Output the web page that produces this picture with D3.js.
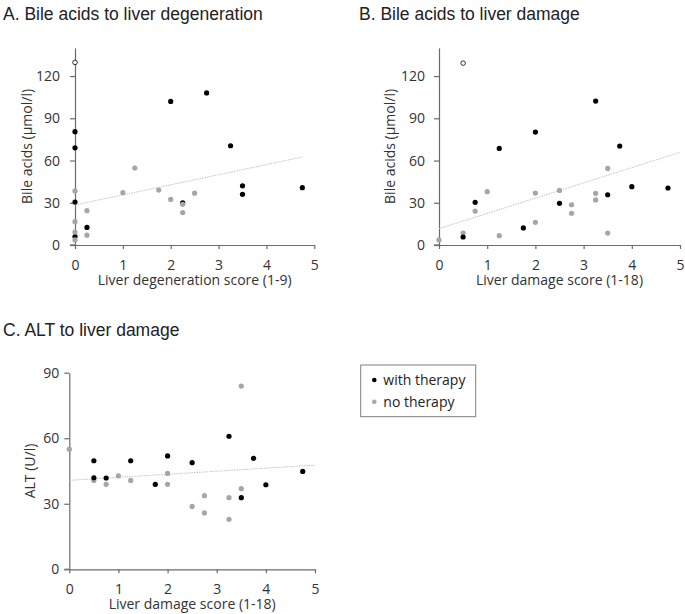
<!DOCTYPE html>
<html>
<head>
<meta charset="utf-8">
<script src="https://cdn.jsdelivr.net/npm/d3@7"></script>
<style>
  html, body { margin: 0; padding: 0; background: #fff; }
  svg { display: block; }
  .tick text { font-family: "Open Sans", sans-serif; font-size: 14px; fill: #333; }
</style>
</head>
<body>
<svg id="chart" width="685" height="614"></svg>
<script>
// ---------- Data ----------
const xTicks = [0, 1, 2, 3, 4, 5];
const yTicksBile = [0, 30, 60, 90, 120];
const yTicksALT = [0, 30, 60, 90];

// Panel A: bile acids vs liver degeneration score
const aWithTherapy = [[0,80.5],[0,69],[0,30.5],[0,6],[0.25,12.5],[2,102],[2.25,30],[2.75,108],[3.25,70.5],[3.5,42],[3.5,36],[4.75,40.7]];
const aNoTherapy = [[0,38.4],[0,16.6],[0,9.2],[0,3.6],[0.25,24.4],[0.25,7],[1,37.2],[1.25,54.7],[1.75,39],[2,32.4],[2.25,28.9],[2.25,23],[2.5,36.8]];
const aOutlier = [[0,129.7]];
const aTrend = [[0,28.4],[4.75,62.5]];

// Panel B: bile acids vs liver damage score
const bWithTherapy = [[0.5,5.7],[0.75,30.3],[1.25,68.6],[1.75,12.1],[2,80.2],[2.5,29.6],[3.25,102.2],[3.5,35.7],[3.75,70.3],[4,41.4],[4.75,40.5]];
const bNoTherapy = [[0,3.6],[0.5,8.5],[0.75,24.1],[1,37.9],[1.25,6.6],[2,36.9],[2,16.1],[2.5,38.8],[2.75,28.6],[2.75,22.5],[3.25,36.7],[3.25,32],[3.5,54.4],[3.5,8.5]];
const bOutlier = [[0.5,129.2]];
const bTrend = [[0,11.6],[5,65.8]];

// Panel C: ALT vs liver damage score
const cWithTherapy = [[0.5,49.7],[0.5,41.9],[0.75,41.8],[1.25,49.7],[1.75,38.9],[2,51.9],[2.5,48.8],[3.25,60.9],[3.5,32.8],[3.75,50.8],[4,38.7],[4.75,44.8]];
const cNoTherapy = [[0,55],[0.5,40.7],[0.75,38.9],[1,42.8],[1.25,40.7],[2,43.9],[2,38.9],[2.5,28.8],[2.75,33.7],[2.75,25.8],[3.25,32.8],[3.25,22.9],[3.5,36.9],[3.5,83.9]];
const cOutlier = [];
const cTrend = [[0,40.7],[5,47.7]];

const legendLabels = ["with therapy", "no therapy"];

// ---------- Styles ----------
const BLACK = "#000000";
const GRAY = "#a6a6a6";
const AXIS = "#6b6b6b";

const svg = d3.select("#chart");

function drawPanel(cfg) {
  const x = d3.scaleLinear().domain([0, 5]).range([cfg.x0, cfg.x1]);
  const y = d3.scaleLinear().domain([0, cfg.yMax]).range([cfg.y0, cfg.y1]);
  const g = svg.append("g");

  // title
  g.append("text")
    .attr("x", cfg.titleX).attr("y", cfg.titleY)
    .style("font-family", "'Liberation Sans', Arial, sans-serif")
    .style("font-size", "17.5px").style("fill", "#222")
    .text(cfg.title);

  // axes
  const xa = g.append("g").attr("transform", `translate(0,${cfg.y0})`)
    .call(d3.axisBottom(x).tickValues(xTicks).tickFormat(d3.format("d"))
      .tickSize(4).tickSizeOuter(0).tickPadding(cfg.xPad));
  const ya = g.append("g").attr("transform", `translate(${cfg.x0},0)`)
    .call(d3.axisLeft(y).tickValues(cfg.yTicks).tickFormat(d3.format("d"))
      .tickSize(5).tickSizeOuter(0).tickPadding(cfg.yPad));
  [xa, ya].forEach(a => {
    a.select(".domain").attr("stroke", AXIS).attr("stroke-width", 1.2);
    a.selectAll(".tick line").attr("stroke", AXIS).attr("stroke-width", 1.2);
  });
  g.append("line").attr("x1", cfg.x0 - 5).attr("x2", cfg.x0)
    .attr("y1", cfg.y0).attr("y2", cfg.y0).attr("stroke", AXIS).attr("stroke-width", 1.2);

  // axis titles
  g.append("text")
    .attr("x", (cfg.x0 + cfg.x1) / 2).attr("y", cfg.xTitleY)
    .attr("text-anchor", "middle")
    .style("font-family", "'Open Sans', sans-serif").style("font-size", "14px").style("fill", "#333")
    .text(cfg.xTitle);
  g.append("text")
    .attr("transform", `translate(${cfg.yTitleX},${(cfg.y0 + cfg.y1) / 2}) rotate(-90)`)
    .attr("text-anchor", "middle").attr("dy", "0.35em")
    .style("font-family", "'Open Sans', sans-serif").style("font-size", "14px").style("fill", "#333")
    .text(cfg.yTitle);

  // trend line
  g.append("path")
    .datum(cfg.trend)
    .attr("d", d3.line().x(d => x(d[0])).y(d => y(d[1])))
    .attr("fill", "none").attr("stroke", "#c4c4c4").attr("stroke-width", 1)
    .attr("stroke-dasharray", "1.5,1");

  const layers = cfg.grayOnTop
    ? [[cfg.black, BLACK], [cfg.gray, GRAY]]
    : [[cfg.gray, GRAY], [cfg.black, BLACK]];
  layers.forEach(([data, color]) => {
    g.append("g").selectAll("circle").data(data).join("circle")
      .attr("cx", d => x(d[0])).attr("cy", d => y(d[1])).attr("r", 2.6)
      .attr("fill", color);
  });
  g.append("g").selectAll("circle").data(cfg.outlier).join("circle")
    .attr("cx", d => x(d[0])).attr("cy", d => y(d[1])).attr("r", 2.3)
    .attr("fill", "#fff").attr("stroke", "#000").attr("stroke-width", 0.8);
}

drawPanel({
  title: "A. Bile acids to liver degeneration", titleX: 3, titleY: 20,
  x0: 75, x1: 314.3, y0: 245, y1: 47.9, yMax: 140, yTicks: yTicksBile, yPad: 10, xPad: 11,
  xTitle: "Liver degeneration score (1-9)", xTitleY: 285,
  yTitle: "Bile acids (\u00b5mol/l)", yTitleX: 27,
  black: aWithTherapy, gray: aNoTherapy, outlier: aOutlier, trend: aTrend, grayOnTop: true
});
drawPanel({
  title: "B. Bile acids to liver damage", titleX: 359, titleY: 20,
  x0: 439, x1: 680, y0: 245, y1: 47.9, yMax: 140, yTicks: yTicksBile, yPad: 9, xPad: 11,
  xTitle: "Liver damage score (1-18)", xTitleY: 285,
  yTitle: "Bile acids (\u00b5mol/l)", yTitleX: 390,
  black: bWithTherapy, gray: bNoTherapy, outlier: bOutlier, trend: bTrend, grayOnTop: false
});
drawPanel({
  title: "C. ALT to liver damage", titleX: 3, titleY: 336,
  x0: 69.3, x1: 315, y0: 569.3, y1: 372.7, yMax: 90, yTicks: yTicksALT, yPad: 5, xPad: 11,
  xTitle: "Liver damage score (1-18)", xTitleY: 609,
  yTitle: "ALT (U/l)", yTitleX: 30,
  black: cWithTherapy, gray: cNoTherapy, outlier: cOutlier, trend: cTrend, grayOnTop: false
});

// ---------- Legend ----------
const lg = svg.append("g");
lg.append("rect").attr("x", 360.7).attr("y", 365).attr("width", 115).attr("height", 51.7)
  .attr("fill", "#fff").attr("stroke", "#7f7f7f").attr("stroke-width", 1);
const legendColors = d3.scaleOrdinal().domain(legendLabels).range([BLACK, GRAY]);
const legendY = d3.scalePoint().domain(legendLabels).range([380, 401.7]);
legendLabels.forEach(l => {
  lg.append("circle").attr("cx", 374.3).attr("cy", legendY(l)).attr("r", 2.3).attr("fill", legendColors(l));
  lg.append("text").attr("x", 383.3).attr("y", legendY(l)).attr("dy", "0.35em")
    .style("font-family", "'Open Sans', sans-serif").style("font-size", "14px").style("fill", "#222")
    .text(l);
});
</script>
</body>
</html>
